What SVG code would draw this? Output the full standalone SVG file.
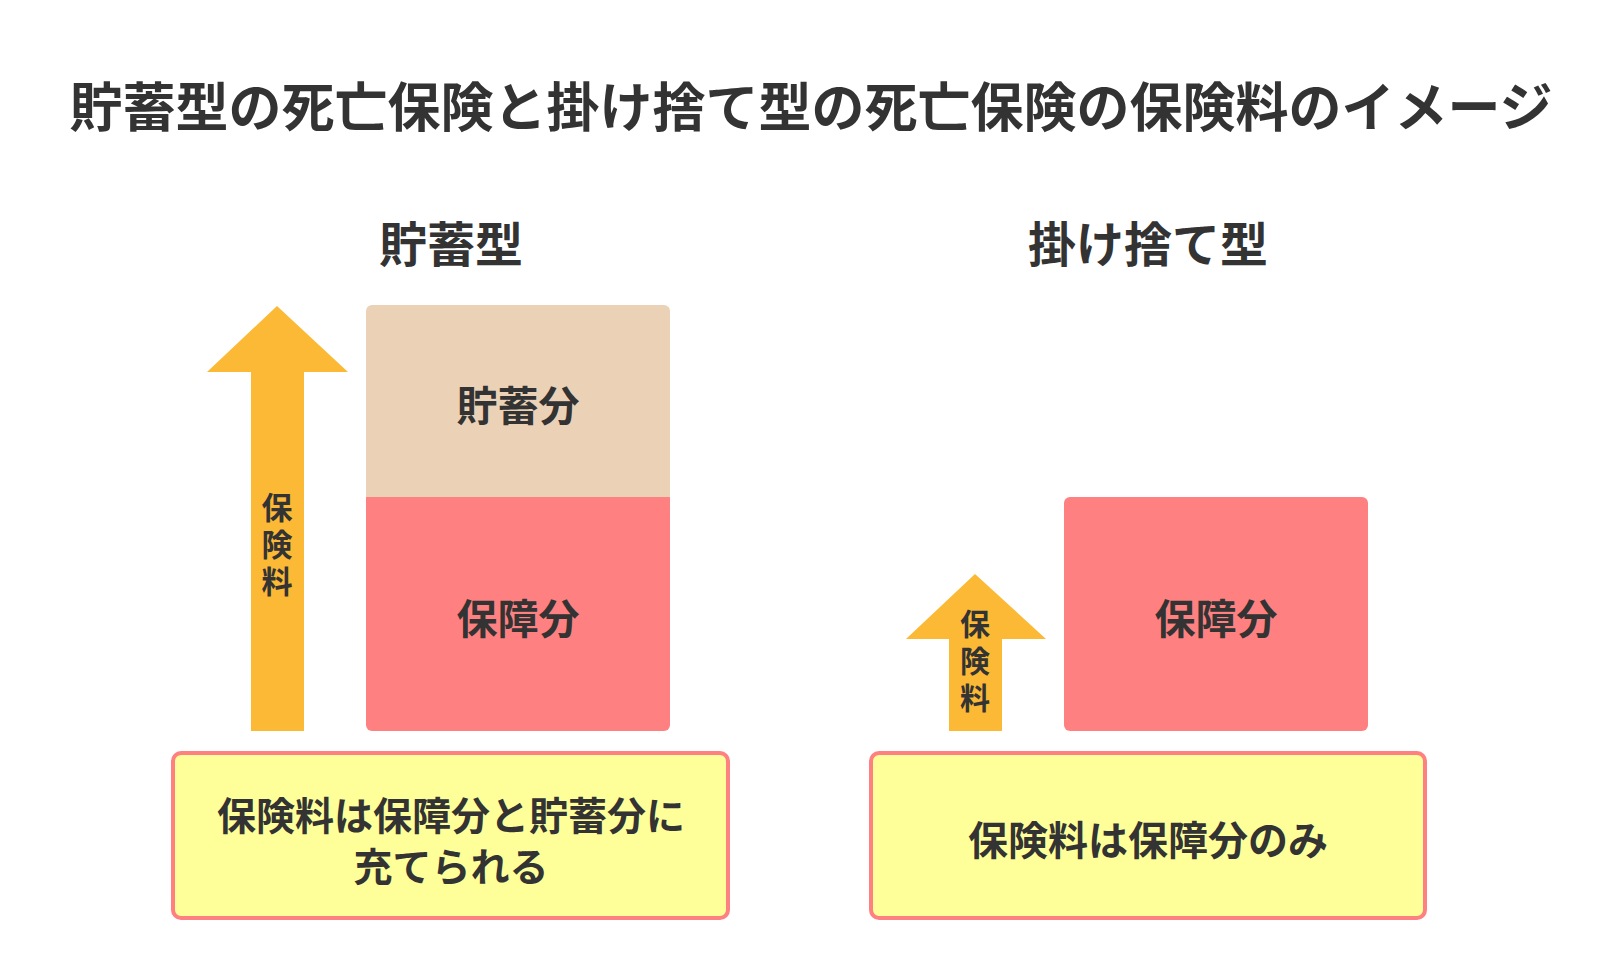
<svg xmlns="http://www.w3.org/2000/svg" width="1600" height="976" viewBox="0 0 1600 976">
<style>
text{font-family:"Noto Sans CJK JP","Noto Sans",sans-serif;font-weight:bold;fill:#333;text-anchor:middle;dominant-baseline:central}
.arrow{fill:#FBB936}
.save{fill:#EBD2B7}
.prot{fill:#FF8080}
.note{fill:#FFFF99;stroke:#FF8080;stroke-width:4}
</style>
<rect width="1600" height="976" fill="#fff"/>
<text x="811" y="104" font-size="53">貯蓄型の死亡保険と掛け捨て型の死亡保険の保険料のイメージ</text>
<text x="451" y="241" font-size="48">貯蓄型</text>
<text x="1148" y="241" font-size="48">掛け捨て型</text>
<g id="arrow-left">
<polygon class="arrow" points="277,306 348,372 304,372 304,731 251,731 251,372 207,372"/>
<text x="277" y="505" font-size="31">保</text><text x="277" y="542" font-size="31">険</text><text x="277" y="579" font-size="31">料</text>
</g>
<g id="savings">
<path class="save" d="M366,311 a6,6 0 0 1 6,-6 h292 a6,6 0 0 1 6,6 V497 H366 Z"/>
<text x="518" y="403" font-size="41">貯蓄分</text>
</g>
<g id="protection-left">
<path class="prot" d="M366,497 H670 V725 a6,6 0 0 1 -6,6 H372 a6,6 0 0 1 -6,-6 Z"/>
<text x="518" y="616" font-size="41">保障分</text>
</g>
<g id="note-left">
<rect class="note" x="173" y="753" width="555" height="165" rx="8"/>
<text x="451" y="813" font-size="39">保険料は保障分と貯蓄分に</text>
<text x="451" y="864" font-size="39">充てられる</text>
</g>
<g id="arrow-right">
<polygon class="arrow" points="975,574 1046,639 1002,639 1002,731 949,731 949,639 906,639"/>
<text x="975" y="622" font-size="30">保</text><text x="975" y="659" font-size="30">険</text><text x="975" y="696" font-size="30">料</text>
</g>
<g id="protection-right">
<rect class="prot" x="1064" y="497" width="304" height="234" rx="6"/>
<text x="1216" y="616" font-size="41">保障分</text>
</g>
<g id="note-right">
<rect class="note" x="871" y="753" width="554" height="165" rx="8"/>
<text x="1148" y="838" font-size="40">保険料は保障分のみ</text>
</g>
<g id="connectors"></g>
</svg>
